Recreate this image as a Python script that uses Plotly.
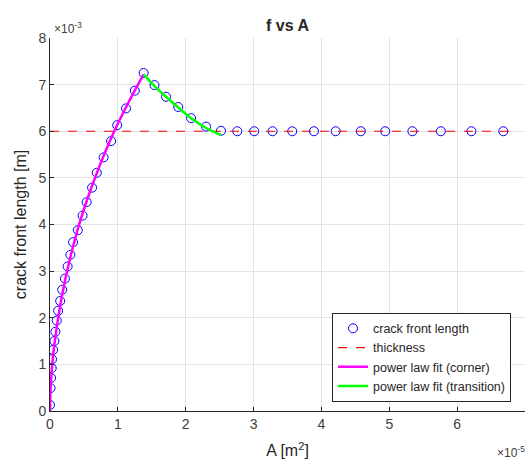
import plotly.graph_objects as go

# A in units of 1e-5 m^2, f in units of 1e-3 m
A = [0.00, 0.008, 0.016, 0.025, 0.03, 0.046, 0.065, 0.08, 0.10, 0.12, 0.15, 0.18, 0.22, 0.26,
     0.30, 0.34, 0.41, 0.48, 0.54, 0.62, 0.69, 0.79, 0.90, 0.99, 1.12, 1.25, 1.38,
     1.54, 1.71, 1.89, 2.08, 2.30, 2.52, 2.76, 3.01, 3.28, 3.57, 3.89, 4.21,
     4.58, 4.94, 5.34, 5.76, 6.21, 6.68]
f = [0.13, 0.49, 0.71, 0.92, 1.11, 1.31, 1.50, 1.70, 1.94, 2.15, 2.36, 2.60, 2.84, 3.10,
     3.35, 3.62, 3.88, 4.19, 4.48, 4.79, 5.11, 5.44, 5.79, 6.13, 6.49, 6.87, 7.25,
     6.99, 6.74, 6.52, 6.28, 6.10, 6.01, 6.00, 6.00, 6.00, 6.00, 6.00, 6.00,
     6.00, 6.00, 6.00, 6.00, 6.00, 6.00]

thick_A = [0.0, 6.85]
thick_f = [6.0, 6.0]

corner_A = [0.0, 0.005, 0.02, 0.05, 0.10, 0.18, 0.30, 0.45, 0.65, 0.90, 1.15, 1.38]
corner_f = [0.0, 0.35, 0.75, 1.25, 1.80, 2.50, 3.30, 4.10, 4.95, 5.85, 6.60, 7.22]

trans_A = [1.38, 1.54, 1.71, 1.89, 2.08, 2.30, 2.52]
trans_f = [7.22, 6.97, 6.74, 6.51, 6.28, 6.07, 5.92]

FONT = "Liberation Sans, Arial, sans-serif"
fig = go.Figure()
fig.add_trace(go.Scatter(x=A, y=f, mode="markers", name="crack front length",
                         marker=dict(symbol="circle-open", size=9, color="#0000FF",
                                     line=dict(width=1, color="#0000FF"))))
fig.add_trace(go.Scatter(x=thick_A, y=thick_f, mode="lines", name="thickness",
                         line=dict(color="#FF0000", width=1.2, dash="dash")))
fig.add_trace(go.Scatter(x=corner_A, y=corner_f, mode="lines", name="power law fit (corner)",
                         line=dict(color="#FF00FF", width=2.5, shape="spline")))
fig.add_trace(go.Scatter(x=trans_A, y=trans_f, mode="lines", name="power law fit (transition)",
                         line=dict(color="#00FF00", width=2.5, shape="spline")))

axis_common = dict(showgrid=True, gridcolor="#E3E3E3", gridwidth=1, zeroline=False,
                   showline=True, linecolor="#262626", linewidth=1, ticks="inside",
                   ticklen=4, tickcolor="#262626",
                   tickfont=dict(size=14, color="#404040", family=FONT), mirror=False)
fig.update_layout(
    width=529, height=464,
    margin=dict(l=50, r=4, t=38, b=53),
    paper_bgcolor="white", plot_bgcolor="white",
    font=dict(family=FONT, color="#262626"),
    title=dict(text="<b>f vs A</b>", x=(50 + 475 / 2) / 529, xanchor="center",
               y=1 - 25 / 464, yanchor="middle", font=dict(size=16, color="#262626")),
    xaxis=dict(range=[0, 7], tickvals=list(range(8)),
               title=dict(text="A [m<sup>2</sup>]", font=dict(size=16), standoff=14),
               **axis_common),
    yaxis=dict(range=[0, 8], tickvals=list(range(9)),
               title=dict(text="crack front length [m]", font=dict(size=16), standoff=7),
               **axis_common),
    legend=dict(x=0.9705, y=0.025, xanchor="right", yanchor="bottom",
                bgcolor="white", bordercolor="#262626", borderwidth=1,
                font=dict(size=12.5, color="#262626", family=FONT), tracegroupgap=0),
    showlegend=True,
)
fig.add_annotation(text="×10<sup>-3</sup>", xref="paper", yref="paper", x=0.005, y=1.0,
                   xanchor="left", yanchor="bottom", showarrow=False,
                   font=dict(size=12, color="#404040"))
fig.add_annotation(text="×10<sup>-5</sup>", xref="paper", yref="paper", x=1.0, y=0.0,
                   xanchor="right", yanchor="top", showarrow=False, yshift=-31, xshift=2,
                   font=dict(size=12, color="#404040"))
fig.write_html("out.html")
